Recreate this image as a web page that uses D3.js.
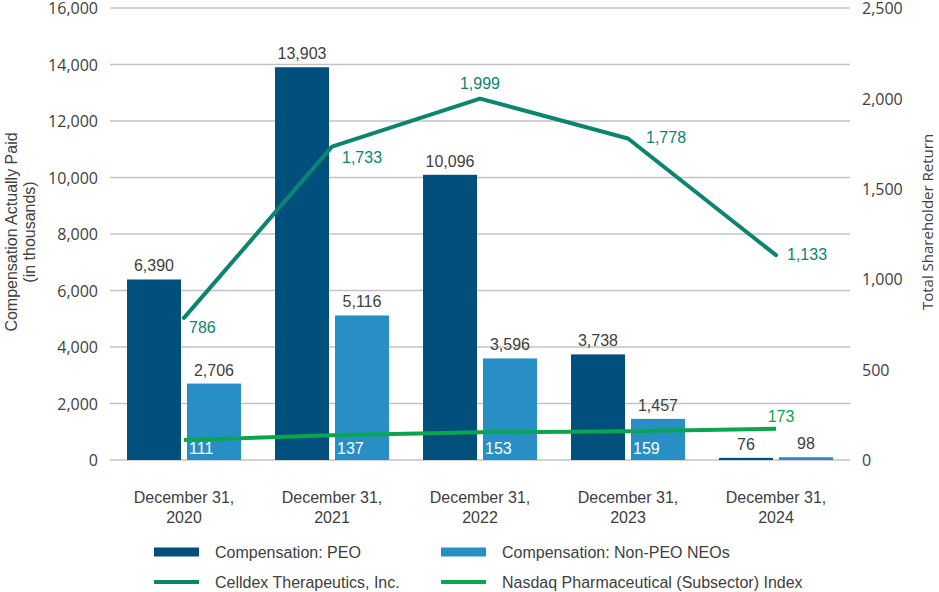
<!DOCTYPE html>
<html>
<head>
<meta charset="utf-8">
<script src="https://cdn.jsdelivr.net/npm/d3@7"></script>
<style>
  body { margin: 0; background: #fff; }
  svg text { font-family: "Liberation Sans", Arial, sans-serif; }
</style>
</head>
<body>
<div id="chart"></div>
<script>
// Pay versus performance chart
const width = 939;
const height = 592;

const categories = ["December 31, 2020", "December 31, 2021", "December 31, 2022", "December 31, 2023", "December 31, 2024"];
const peoValues = [6390, 13903, 10096, 3738, 76];
const nonPeoValues = [2706, 5116, 3596, 1457, 98];
const celldexTsr = [786, 1733, 1999, 1778, 1133];
const nasdaqTsr = [111, 137, 153, 159, 173];
const leftTicks = [0, 2000, 4000, 6000, 8000, 10000, 12000, 14000, 16000];
const rightTicks = [0, 500, 1000, 1500, 2000, 2500];

const colors = {
    peo: "#014f7d",
    nonPeo: "#288fc6",
    celldex: "#0b8470",
    nasdaq: "#0aa64f",
    text: "#404040",
    grid: "#c3c3c3"
};

// label placement for the TSR labels [dx, dy, anchor]
const celldexLabelPos = [[5, 15, "start"], [10, 16, "start"], [0, -10, "middle"], [18, 4, "start"], [11, 5, "start"]];

const margin = { left: 110, right: 89, top: 8, bottom: 132 };
const x0 = margin.left, x1 = width - margin.right;
const yTop = margin.top, yBottom = height - margin.bottom;

const svg = d3.select("#chart")
    .append("svg")
    .attr("width", width)
    .attr("height", height);

const x = d3.scaleBand().domain(categories).range([x0, x1]).paddingInner(0.23).paddingOuter(0.115);
const xSub = d3.scaleBand().domain(["peo", "nonPeo"]).range([0, x.bandwidth()]).paddingInner(0.1);
const yLeft = d3.scaleLinear().domain([0, 16000]).range([yBottom, yTop]);
const yRight = d3.scaleLinear().domain([0, 2500]).range([yBottom, yTop]);
const cx = c => x(c) + x.bandwidth() / 2;
const fmt = d3.format(",");

// gridlines
svg.append("g")
    .selectAll("line")
    .data(leftTicks)
    .enter().append("line")
    .attr("x1", x0).attr("x2", x1)
    .attr("y1", d => yLeft(d)).attr("y2", d => yLeft(d))
    .attr("stroke", colors.grid)
    .attr("stroke-width", 1.5);

// left axis
const leftAxis = svg.append("g")
    .attr("transform", `translate(${x0},0)`)
    .call(d3.axisLeft(yLeft).tickValues(leftTicks).tickFormat(fmt).tickSize(0).tickPadding(12));
leftAxis.select(".domain").remove();
leftAxis.selectAll("text")
    .attr("fill", colors.text)
    .attr("dy", "0.36em")
    .style("font-family", "'Open Sans', sans-serif")
    .style("font-size", "16px");

// right axis
const rightAxis = svg.append("g")
    .attr("transform", `translate(${x1},0)`)
    .call(d3.axisRight(yRight).tickValues(rightTicks).tickFormat(fmt).tickSize(0).tickPadding(12));
rightAxis.select(".domain").remove();
rightAxis.selectAll("text")
    .attr("fill", colors.text)
    .attr("dy", "0.36em")
    .style("font-family", "'Open Sans', sans-serif")
    .style("font-size", "16px");

// axis titles
const leftTitle = svg.append("text")
    .attr("transform", `translate(20,232) rotate(-90)`)
    .attr("text-anchor", "middle")
    .attr("fill", colors.text)
    .style("font-size", "16px");
leftTitle.append("tspan").attr("x", 0).attr("dy", "-0.2em").text("Compensation Actually Paid");
leftTitle.append("tspan").attr("x", 0).attr("dy", "1.15em").text("(in thousands)");

svg.append("text")
    .attr("transform", `translate(933,222) rotate(-90)`)
    .attr("text-anchor", "middle")
    .attr("fill", colors.text)
    .style("font-family", "'Open Sans', sans-serif")
    .style("font-size", "15px")
    .text("Total Shareholder Return");

// category labels
const catLabels = svg.append("g")
    .selectAll("text")
    .data(categories)
    .enter().append("text")
    .attr("x", d => cx(d))
    .attr("y", 503)
    .attr("text-anchor", "middle")
    .attr("fill", colors.text)
    .style("font-size", "16px");
catLabels.append("tspan").attr("x", d => cx(d)).text(d => d.split(" 20")[0]);
catLabels.append("tspan").attr("x", d => cx(d)).attr("dy", 20).text(d => "20" + d.split(" 20")[1]);

// bars
const rows = categories.map((c, i) => ({ cat: c, peo: peoValues[i], nonPeo: nonPeoValues[i], celldex: celldexTsr[i], nasdaq: nasdaqTsr[i] }));

const groups = svg.append("g")
    .selectAll("g")
    .data(rows)
    .enter().append("g")
    .attr("transform", d => `translate(${x(d.cat)},0)`);

["peo", "nonPeo"].forEach(key => {
    groups.append("rect")
        .attr("x", xSub(key))
        .attr("width", xSub.bandwidth())
        .attr("y", d => yLeft(d[key]))
        .attr("height", d => Math.max(yBottom - yLeft(d[key]), 0))
        .attr("fill", colors[key]);
    groups.append("text")
        .attr("x", xSub(key) + xSub.bandwidth() / 2)
        .attr("y", d => yLeft(d[key]) - 8)
        .attr("text-anchor", "middle")
        .attr("fill", colors.text)
        .style("font-size", "16px")
        .text(d => fmt(d[key]));
});

// lines
const line = yScale => d3.line().x(d => cx(d.cat)).y(d => yScale(d.v));

svg.append("path")
    .datum(rows.map(r => ({ cat: r.cat, v: r.nasdaq })))
    .attr("d", line(yRight))
    .attr("fill", "none")
    .attr("stroke", colors.nasdaq)
    .attr("stroke-width", 4);

svg.append("path")
    .datum(rows.map(r => ({ cat: r.cat, v: r.celldex })))
    .attr("d", line(yRight))
    .attr("fill", "none")
    .attr("stroke", colors.celldex)
    .attr("stroke-width", 4)
    .attr("stroke-linejoin", "round")
    .attr("stroke-linecap", "round");

// celldex labels
svg.append("g")
    .selectAll("text")
    .data(rows)
    .enter().append("text")
    .attr("x", (d, i) => cx(d.cat) + celldexLabelPos[i][0])
    .attr("y", (d, i) => yRight(d.celldex) + celldexLabelPos[i][1])
    .attr("text-anchor", (d, i) => celldexLabelPos[i][2])
    .attr("fill", colors.celldex)
    .style("font-size", "16px")
    .text(d => fmt(d.celldex));

// nasdaq labels: first four sit inside the non-PEO bar, last one above the line end
svg.append("g")
    .selectAll("text")
    .data(rows)
    .enter().append("text")
    .attr("x", (d, i) => i < 4 ? x(d.cat) + xSub("nonPeo") + 2 : cx(d.cat) + 5)
    .attr("y", (d, i) => i < 4 ? yBottom - 6 : yRight(d.nasdaq) - 7)
    .attr("text-anchor", (d, i) => i < 4 ? "start" : "middle")
    .attr("fill", (d, i) => i < 4 ? "#ffffff" : colors.nasdaq)
    .style("font-size", "16px")
    .text(d => fmt(d.nasdaq));

// legend
const legendItems = [
    { label: "Compensation: PEO", color: colors.peo, type: "bar", x: 154, y: 552 },
    { label: "Compensation: Non-PEO NEOs", color: colors.nonPeo, type: "bar", x: 441, y: 552 },
    { label: "Celldex Therapeutics, Inc.", color: colors.celldex, type: "line", x: 154, y: 582 },
    { label: "Nasdaq Pharmaceutical (Subsector) Index", color: colors.nasdaq, type: "line", x: 441, y: 582 }
];

const legend = svg.append("g")
    .selectAll("g")
    .data(legendItems)
    .enter().append("g")
    .attr("transform", d => `translate(${d.x},${d.y})`);

legend.append("rect")
    .attr("x", 0)
    .attr("width", 45)
    .attr("y", d => d.type === "bar" ? -4.5 : -2)
    .attr("height", d => d.type === "bar" ? 9 : 4)
    .attr("fill", d => d.color);

legend.append("text")
    .attr("x", 61)
    .attr("y", 6)
    .attr("fill", colors.text)
    .style("font-size", "16px")
    .text(d => d.label);
</script>
</body>
</html>
